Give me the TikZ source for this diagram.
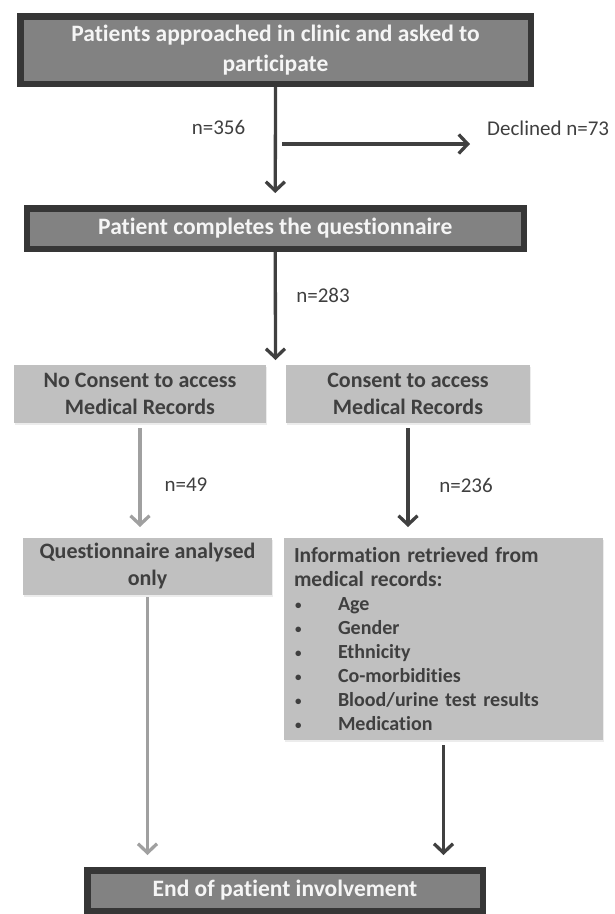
\documentclass[tikz,border=0pt]{standalone}
\usepackage{fontspec}
\setmainfont{Carlito}[Ligatures=NoCommon]
\usetikzlibrary{arrows.meta,shadows}
\definecolor{boxdark}{HTML}{828282}
\definecolor{borderdark}{HTML}{363636}
\definecolor{boxlight}{HTML}{C0C0C0}
\definecolor{txtdark}{HTML}{3F3F3F}
\definecolor{arrowlight}{HTML}{A0A0A0}
\definecolor{arrowdark}{HTML}{404040}
\newcommand{\blt}{\makebox[44pt][l]{\hspace{1pt}\raisebox{1pt}{\fontsize{13}{13}\selectfont •}}}
\tikzset{
  darkbox/.style={draw=borderdark, line width=6.5pt, fill=boxdark, text=white!96!black,
    font=\fontsize{23.5}{30}\selectfont\bfseries, align=center, inner sep=0pt, outer sep=0pt,
    drop shadow={opacity=0.25, shadow xshift=1pt, shadow yshift=-1.5pt}},
  lightbox/.style={fill=boxlight, text=txtdark, font=\fontsize{22}{27}\selectfont\bfseries,
    align=center, inner sep=0pt, outer sep=0pt,
    drop shadow={opacity=0.15, shadow xshift=1pt, shadow yshift=-1.5pt}},
  lbl/.style={text=txtdark, font=\fontsize{21}{25}\selectfont, inner sep=0pt},
  darrow/.style={draw=arrowdark, line width=3.3pt, -{Straight Barb[length=9pt,width=19pt]}},
  larrow/.style={draw=arrowlight, line width=3.3pt, -{Straight Barb[length=9pt,width=19pt]}},
}
\begin{document}
\begin{tikzpicture}[x=1pt,y=-1pt]
\useasboundingbox (0,0) rectangle (614,914);
\clip (0,0) rectangle (614,914);

% boxes
\node[darkbox, minimum width=510.5pt, minimum height=67.5pt] (top) at (275.5,50)
  {Patients approached in clinic and asked to\\participate};
\node[darkbox, minimum width=497pt, minimum height=40.5pt] (quest) at (275.25,228.5)
  {Patient completes the questionnaire};
\node[lightbox, minimum width=252pt, minimum height=58pt] (noc) at (140,394)
  {No Consent to access\\Medical Records};
\node[lightbox, minimum width=244pt, minimum height=58pt] (con) at (408,394)
  {Consent to access\\Medical Records};
\node[lightbox, minimum width=249pt, minimum height=57pt] (qa) at (147.5,566.5)
  {Questionnaire analysed\\only};
\node[lightbox, minimum width=319pt, minimum height=202pt, align=left, text width=299pt,
  font=\fontsize{20}{24.1}\selectfont\bfseries] (info) at (443.5,639)
  {{\fontsize{21.5}{24.1}\selectfont Information retrieved from}\\
   {\fontsize{21.5}{24.1}\selectfont medical records:}\\
   \blt Age\\
   \blt Gender\\
   \blt Ethnicity\\
   \blt Co-morbidities\\
   \blt Blood/urine test results\\
   \blt Medication};
\node[darkbox, minimum width=395.5pt, minimum height=40.5pt] (end) at (285,890.5)
  {End of patient involvement};

% labels
\node[lbl] (n356) at (218.5,127) {n=356};
\node[lbl, anchor=west] (declined) at (487,128) {Declined n=73};
\node[lbl] (n283) at (323,295) {n=283};
\node[lbl] (n49) at (186,485) {n=49};
\node[lbl] (n236) at (466,485) {n=236};

% connectors
\coordinate (dstart) at (282,144);
\coordinate (split) at (275.5,360);
\draw[darrow, shorten <=3.25pt, shorten >=15.25pt] (top.south) -- (quest.north);
\draw[darrow, shorten >=17pt] (dstart) -- (dstart -| declined.west);
\draw[darrow, shorten <=3.25pt] (quest.south) -- (split);
\draw[larrow, shorten <=5pt, shorten >=11pt] (noc.south) -- (noc.south |- qa.north);
\draw[darrow, shorten <=5pt, shorten >=11pt] (con.south) -- (con.south |- info.north);
\draw[larrow, shorten <=2pt, shorten >=15.25pt] (qa.south) -- (qa.south |- end.north);
\draw[darrow, shorten <=5pt, shorten >=15.25pt] (info.south) -- (info.south |- end.north);
\end{tikzpicture}
\end{document}
